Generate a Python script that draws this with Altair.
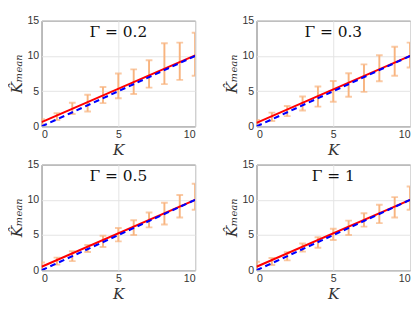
import altair as alt
import pandas as pd

K = [0, 1, 2, 3, 4, 5, 6, 7, 8, 9, 10]
gammas = ["Γ = 0.2", "Γ = 0.3", "Γ = 0.5", "Γ = 1"]

lo_02 = [0.3, 0.9, 1.75, 2.1, 3.3, 4.0, 4.6, 5.5, 6.0, 6.6, 7.2]
hi_02 = [1.0, 1.85, 3.35, 4.5, 5.6, 7.5, 8.1, 9.4, 11.8, 11.9, 13.3]
lo_03 = [0.45, 0.75, 1.45, 2.25, 2.8, 3.5, 4.2, 4.9, 6.4, 7.2, 8.35]
hi_03 = [0.9, 1.95, 2.9, 4.25, 5.65, 6.45, 7.55, 8.8, 10.1, 11.3, 11.9]
lo_05 = [0.2, 0.8, 1.3, 2.6, 3.3, 4.1, 5.0, 6.1, 6.5, 7.5, 8.6]
hi_05 = [1.1, 1.8, 2.7, 3.6, 4.9, 6.0, 7.1, 8.2, 9.6, 10.7, 12.3]
lo_1 = [0.2, 0.75, 1.4, 2.65, 3.2, 4.3, 5.0, 6.2, 6.7, 7.5, 8.6]
hi_1 = [1.2, 1.75, 2.55, 3.8, 4.7, 5.9, 7.05, 8.1, 9.3, 10.4, 11.9]

fit_x = [0, 10]
fit_red = {"Γ = 0.2": [0.6, 10.1], "Γ = 0.3": [0.5, 10.0], "Γ = 0.5": [0.5, 10.0], "Γ = 1": [0.5, 10.0]}
ideal_blue = [0, 10]

lows = [lo_02, lo_03, lo_05, lo_1]
highs = [hi_02, hi_03, hi_05, hi_1]

ORANGE = "#F8B47F"
AXIS_C = "#262626"

xscale = alt.Scale(domain=[0, 10], nice=False)
yscale = alt.Scale(domain=[0, 15], nice=False)
xax = alt.Axis(values=[0, 5, 10], title="K", grid=True, labelOverlap=False)
yax = alt.Axis(values=[0, 5, 10, 15], title="K̂ₘₑₐₙ", grid=True, labelOverlap=False)


def X(f):
    return alt.X(f, scale=xscale, axis=xax)


def Y(f):
    return alt.Y(f, scale=yscale, axis=yax)


def panel(g, lo, hi):
    df = pd.DataFrame({"K": K, "lo": lo, "hi": hi})
    base = alt.Chart(df)
    rule = base.mark_rule(color=ORANGE, strokeWidth=2, clip=True).encode(
        x=X("K:Q"), y=Y("lo:Q"), y2="hi:Q"
    )
    cap_lo = base.mark_tick(color=ORANGE, orient="horizontal", size=7, thickness=2, clip=True).encode(
        x=X("K:Q"), y=Y("lo:Q")
    )
    cap_hi = base.mark_tick(color=ORANGE, orient="horizontal", size=7, thickness=2, clip=True).encode(
        x=X("K:Q"), y=Y("hi:Q")
    )
    ldf = pd.DataFrame({"x": fit_x, "red": fit_red[g], "blue": ideal_blue})
    red = alt.Chart(ldf).mark_line(color="#FF0000", strokeWidth=2, clip=True).encode(
        x=X("x:Q"), y=Y("red:Q")
    )
    blue = alt.Chart(ldf).mark_line(color="#0000FF", strokeWidth=2.2, strokeDash=[6, 4], clip=True).encode(
        x=X("x:Q"), y=Y("blue:Q")
    )
    tdf = pd.DataFrame({"t": [g], "tx": [5], "ty": [13.4]})
    title = alt.Chart(tdf).mark_text(
        font="DejaVu Serif", fontSize=16, color="#111111", baseline="middle", align="center"
    ).encode(x=X("tx:Q"), y=Y("ty:Q"), text="t:N")
    return alt.layer(rule, cap_lo, cap_hi, red, blue, title).properties(width=160, height=110)


panels = [panel(g, lo, hi) for g, lo, hi in zip(gammas, lows, highs)]

chart = alt.vconcat(
    alt.hconcat(panels[0], panels[1], spacing=28),
    alt.hconcat(panels[2], panels[3], spacing=28),
    spacing=0,
).properties(padding={"left": 0, "top": 0, "right": 0, "bottom": 0}).configure_view(
    stroke=AXIS_C, strokeWidth=1
).configure_axis(
    gridColor="#e3e3e3",
    gridWidth=1,
    domain=False,
    ticks=False,
    labelFont="Liberation Sans",
    labelFontSize=11,
    labelColor="#333333",
    labelPadding=3,
    titleFont="DejaVu Serif",
    titleFontSize=16,
    titleFontStyle="italic",
    titleFontWeight="normal",
    titleColor="#333333",
).configure_axisX(titlePadding=2).configure_axisY(titlePadding=3)

chart.save("out.html", embed_options={"renderer": "svg", "actions": False})
